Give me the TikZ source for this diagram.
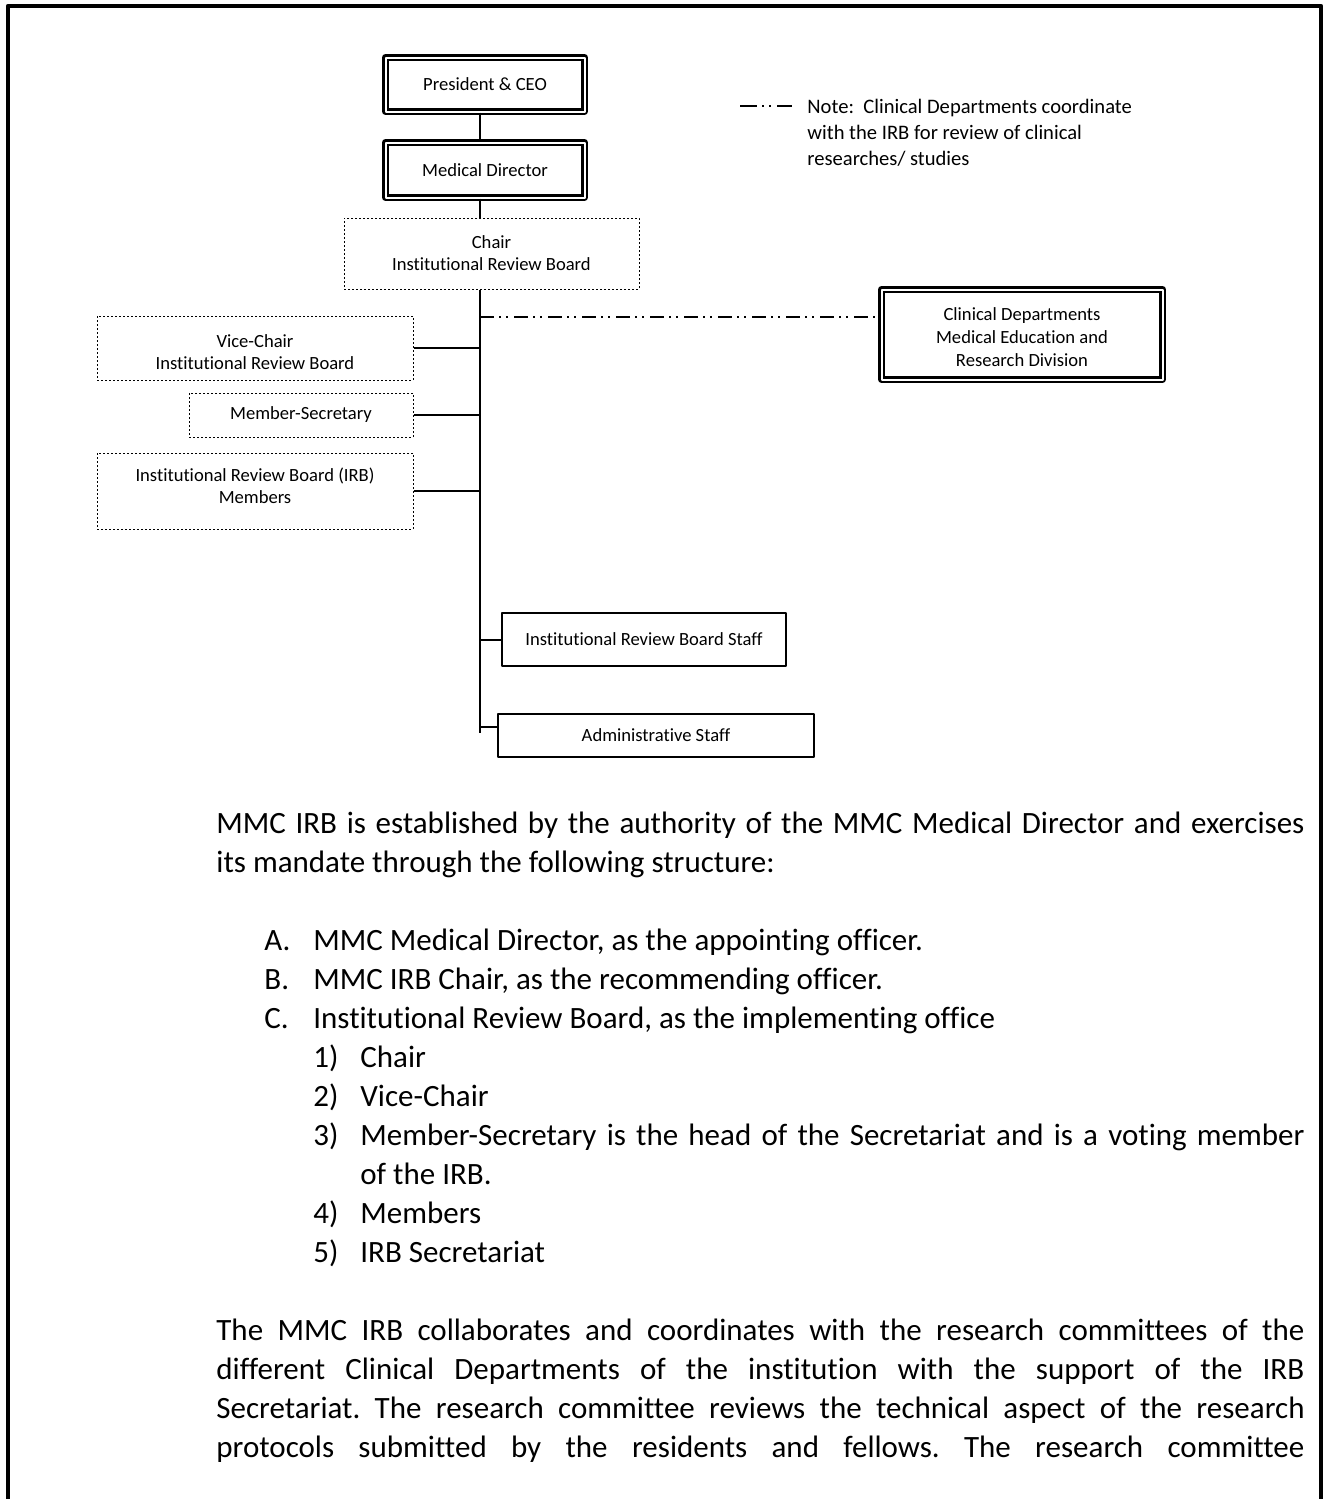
\documentclass[tikz,border=0pt]{standalone}
\usepackage{fontspec}
\setmainfont{Carlito}[Ligatures=CommonOff]
\frenchspacing
\begin{document}
\begin{tikzpicture}[x=0.5pt,y=-0.5pt,line join=round,
  head/.style={draw,double,double distance=1pt,line width=1.2pt,align=center,
    minimum width=99.5pt,font=\fontsize{9.3}{11}\selectfont},
  side/.style={draw,double,double distance=1pt,line width=1.2pt,align=center,
    font=\fontsize{9.3}{11.5}\selectfont},
  dotbox/.style={draw,line width=0.5pt,dash pattern=on 1pt off 1pt,align=center,
    font=\fontsize{9.3}{11}\selectfont},
  plainbox/.style={draw,line width=0.6pt,align=center,font=\fontsize{9.3}{11}\selectfont},
  link/.style={line width=1pt},
  dashdot/.style={line width=1pt,dash pattern=on 7pt off 2.5pt on 1pt off 2.5pt on 1pt off 3pt},
  body/.style={inner sep=0pt,font=\fontsize{15.5}{19.5}\selectfont}]
\useasboundingbox (0,0) rectangle (1333,1499);
\draw[line width=2.2pt] (8,1499) -- (8,6) -- (1321,6) -- (1321,1499);
\path
(485,84.5) node[head,minimum height=27pt] (pres) {President \& CEO}
(485,170) node[head,minimum height=27.5pt] (med) {Medical Director}
(491.5,253.5) node[dotbox,minimum width=147.5pt,minimum height=35.5pt] (chair)
  {Chair\\Institutional Review Board}
(255,348) node[dotbox,minimum width=158pt,minimum height=32pt] (vice)
  {\rule{0pt}{11pt}Vice-Chair\\Institutional Review Board}
(301,415) node[dotbox,minimum width=112pt,minimum height=22pt] (secy) {Member-Secretary}
(255,491) node[dotbox,minimum width=158pt,minimum height=38pt] (memb)
  {Institutional Review Board (IRB)\\Members\rule[-5pt]{0pt}{5pt}}
(1022,334.5) node[side,minimum width=140.5pt,minimum height=45pt] (clin)
  {\rule{0pt}{9pt}Clinical Departments\\Medical Education and\\Research Division}
(644,639.5) node[plainbox,minimum width=142pt,minimum height=26.5pt] (staff)
  {Institutional Review Board Staff}
(656,735.5) node[plainbox,minimum width=158pt,minimum height=21.5pt] (admin)
  {Administrative Staff}
;
\path
(480,733) coordinate (foot)
(480,317) coordinate (dd)
(480,727) coordinate (tee)
(740,106) coordinate (key1)
(792,106) coordinate (key2)
;
\draw[link]
(pres.south -| foot) -- (med.north -| foot)
(med.south -| foot) -- (chair.north -| foot)
(chair.south -| foot) -- (foot)
(vice.east) -- (vice.east -| foot)
(secy.east) -- (secy.east -| foot)
(memb.east) -- (memb.east -| foot)
(foot |- staff.west) -- (staff.west)
(tee) -- (tee -| admin.west)
;
\draw[dashdot] (dd) -- (dd -| clin.west);
\draw[line width=1pt,dash pattern=on 8.5pt off 2.5pt on 1pt off 2.5pt on 1pt off 3pt] (key1) -- (key2);
\node[anchor=base west,inner sep=0pt,text width=200pt,align=flush left,
  font=\fontsize{10.3}{13}\selectfont] (note) at (807,113)
  {Note:\ \ Clinical Departments coordinate\\with the IRB for review of clinical\\researches/ studies};
\node[body,anchor=base west,text width=544pt,align=justify] (intro) at (216,833)
  {MMC IRB is established by the authority of the MMC Medical Director and exercises\linebreak
   its mandate through the following structure:};
\node[body,anchor=base west,text width=560pt,align=flush left] (list) at (264,950)
  {\hyphenpenalty=10000
   \makebox[24.5pt][l]{A.}MMC Medical Director, as the appointing officer.\\
   \makebox[24.5pt][l]{B.}MMC IRB Chair, as the recommending officer.\\
   \makebox[24.5pt][l]{C.}Institutional Review Board, as the implementing office\\
   \hspace*{24.5pt}\makebox[23.5pt][l]{1)}Chair\\
   \hspace*{24.5pt}\makebox[23.5pt][l]{2)}Vice-Chair\\
   \hspace*{24.5pt}\makebox[23.5pt][l]{3)}\makebox[472pt][s]{Member-Secretary is the head of the Secretariat and is a voting member}\\
   \hspace*{48pt}of the IRB.\\
   \hspace*{24.5pt}\makebox[23.5pt][l]{4)}Members\\
   \hspace*{24.5pt}\makebox[23.5pt][l]{5)}IRB Secretariat};
\node[body,anchor=base west,text width=544pt,align=justify] (outro) at (216,1340)
  {\parfillskip=0pt
   The MMC IRB collaborates and coordinates with the research committees of the\linebreak
   different Clinical Departments of the institution with the support of the IRB\linebreak
   Secretariat. The research committee reviews the technical aspect of the research\linebreak
   protocols submitted by the residents and fellows. The research committee\par};
\end{tikzpicture}
\end{document}
